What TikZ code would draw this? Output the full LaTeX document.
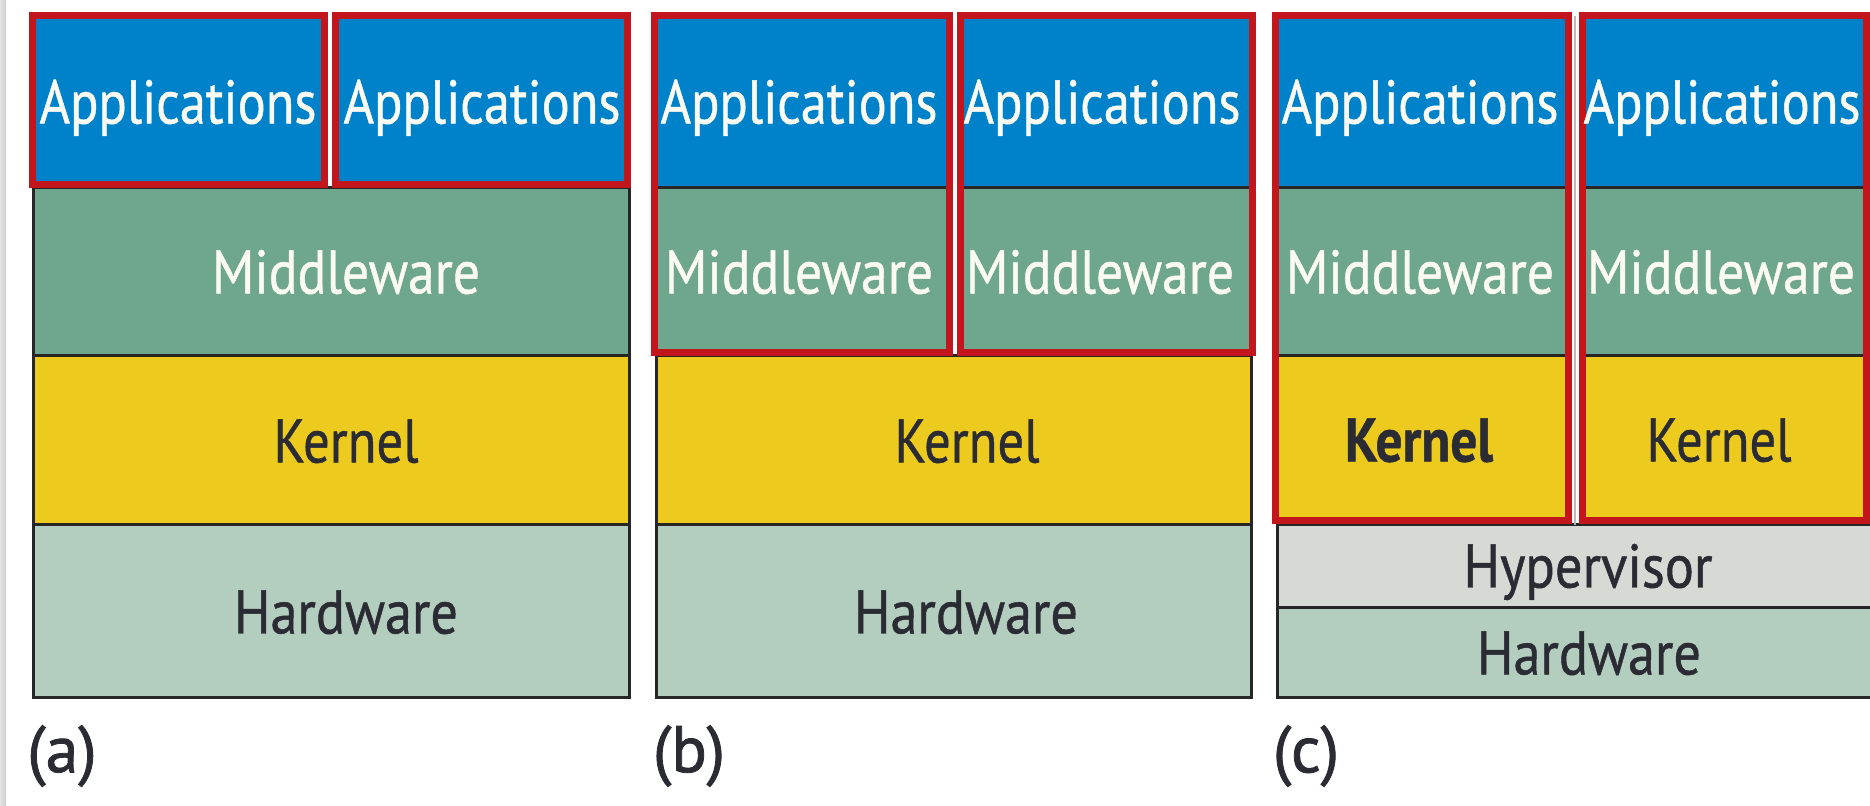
\documentclass[tikz,border=0pt]{standalone}
\usepackage{fontspec}
\setmainfont{PT Sans}[FakeBold=0.8]
\newfontfamily\capfont{PT Sans}[FakeBold=1.2]
\usepackage{graphicx}
\definecolor{appblue}{HTML}{0082CA}
\definecolor{mwgreen}{HTML}{6FA68E}
\definecolor{kernyel}{HTML}{EDCA1E}
\definecolor{hwgreen}{HTML}{B3CDBF}
\definecolor{hvgray}{HTML}{D5DAD4}
\definecolor{framered}{HTML}{C3161C}
\definecolor{edgedark}{HTML}{262626}
\definecolor{inkdark}{HTML}{2A2B33}
\definecolor{inklight}{HTML}{FBFAF2}
% squeeze a word to a given width, keeping its height
\newcommand\fitw[2]{\resizebox{#1}{\height}{#2}}
\tikzset{
  cell/.style={draw=edgedark, line width=1.5pt},
  redframe/.style={draw=framered, line width=3.5pt},
  lbl/.style={inner sep=0pt, text height=21.5pt, text depth=0pt, anchor=center,
              font=\fontsize{30.8pt}{32pt}\selectfont},
  lightlbl/.style={lbl, text=inklight},
  darklbl/.style={lbl, text=inkdark},
  caption/.style={inner sep=0pt, anchor=center, text=inkdark,
              font=\capfont\fontsize{33pt}{35pt}\selectfont},
}
\begin{document}
\begin{tikzpicture}[x=0.5pt,y=-0.5pt]
\useasboundingbox (0,0) rectangle (1870,806);
\clip (0,0) rectangle (1870,806);
\fill[white] (0,0) rectangle (1870,806);
\shade[left color=gray!22, right color=gray!38] (0,0) rectangle (6,806);

% ---------- (a): shared middleware, kernel and hardware ----------
\filldraw[cell, fill=mwgreen] (33,188) rectangle (629,356);
\filldraw[cell, fill=kernyel] (33,356) rectangle (629,525);
\filldraw[cell, fill=hwgreen] (33,525) rectangle (629,698);
\fill[appblue] (32,16) rectangle (324,185);
\fill[appblue] (335,16) rectangle (627,185);
\draw[redframe] (32,16) rectangle (324,185);
\draw[redframe] (335,16) rectangle (627,185);
\node[lightlbl] (a-app1) at (178,102) {\fitw{138.5pt}{Applications}};
\node[lightlbl] (a-app2) at (482,102) {\fitw{138.5pt}{Applications}};
\node[lightlbl] (a-mw) at (346,272) {\fitw{134pt}{Middleware}};
\node[darklbl] (a-kern) at (346,441) {\fitw{72.5pt}{Kernel}};
\node[darklbl] (a-hw) at (346,612) {\fitw{112pt}{Hardware}};
\node[caption] (a-cap) at (62,756) {(a)};

% ---------- (b): shared kernel and hardware ----------
\filldraw[cell, fill=kernyel] (656,356) rectangle (1251,525);
\filldraw[cell, fill=hwgreen] (656,525) rectangle (1251,698);
\filldraw[cell, fill=appblue] (654,16) rectangle (949,188);
\filldraw[cell, fill=mwgreen] (654,188) rectangle (949,353);
\filldraw[cell, fill=appblue] (960,16) rectangle (1252,188);
\filldraw[cell, fill=mwgreen] (960,188) rectangle (1252,353);
\draw[redframe] (654,16) rectangle (949,353);
\draw[redframe] (960,16) rectangle (1252,353);
\node[lightlbl] (b-app1) at (799,102) {\fitw{138.5pt}{Applications}};
\node[lightlbl] (b-app2) at (1102,102) {\fitw{138.5pt}{Applications}};
\node[lightlbl] (b-mw1) at (799,272) {\fitw{134pt}{Middleware}};
\node[lightlbl] (b-mw2) at (1100,272) {\fitw{134pt}{Middleware}};
\node[darklbl] (b-kern) at (967,441) {\fitw{72.5pt}{Kernel}};
\node[darklbl] (b-hw) at (966,612) {\fitw{112pt}{Hardware}};
\node[caption] (b-cap) at (689,756) {(b)};

% ---------- (c): guests on a hypervisor ----------
\filldraw[cell, fill=hvgray] (1277,525) rectangle (1874,608);
\filldraw[cell, fill=hwgreen] (1277,608) rectangle (1874,698);
\draw[gray!55, line width=0.6pt] (1575,16) -- (1575,525);
\filldraw[cell, fill=appblue] (1275,16) rectangle (1568,188);
\filldraw[cell, fill=mwgreen] (1275,188) rectangle (1568,356);
\filldraw[cell, fill=kernyel] (1275,356) rectangle (1568,521);
\filldraw[cell, fill=appblue] (1582,16) rectangle (1866,188);
\filldraw[cell, fill=mwgreen] (1582,188) rectangle (1866,356);
\filldraw[cell, fill=kernyel] (1582,356) rectangle (1866,521);
\draw[redframe] (1275,16) rectangle (1568,521);
\draw[redframe] (1582,16) rectangle (1866,521);
\node[lightlbl] (c-app1) at (1420,102) {\fitw{138.5pt}{Applications}};
\node[lightlbl] (c-app2) at (1722,102) {\fitw{138.5pt}{Applications}};
\node[lightlbl] (c-mw1) at (1420,272) {\fitw{134pt}{Middleware}};
\node[lightlbl] (c-mw2) at (1721,272) {\fitw{134pt}{Middleware}};
\node[darklbl] (c-kern1) at (1419,440) {\fitw{74pt}{\bfseries Kernel}};
\node[darklbl] (c-kern2) at (1719,440) {\fitw{72.5pt}{Kernel}};
\node[darklbl] (c-hv) at (1588,566) {\fitw{124.5pt}{Hypervisor}};
\node[darklbl] (c-hw) at (1589,653) {\fitw{112pt}{Hardware}};
\node[caption] (c-cap) at (1306,756) {(c)};
\end{tikzpicture}
\end{document}
